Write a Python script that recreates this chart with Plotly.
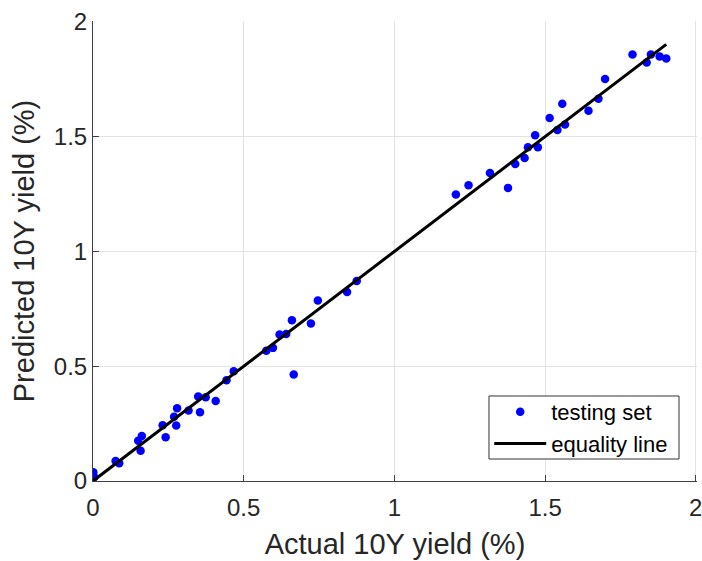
import plotly.graph_objects as go

# Actual vs predicted 10-year yields (%) on the testing set
actual = [0.001, 0.004, 0.075, 0.087, 0.150, 0.162, 0.158, 0.231, 0.241, 0.269,
          0.279, 0.276, 0.317, 0.349, 0.355, 0.374, 0.407, 0.443, 0.467, 0.575,
          0.597, 0.619, 0.641, 0.660, 0.666, 0.723, 0.746, 0.843, 0.875, 1.204,
          1.246, 1.317, 1.377, 1.401, 1.432, 1.443, 1.467, 1.476, 1.515, 1.541,
          1.557, 1.566, 1.644, 1.677, 1.699, 1.790, 1.837, 1.851, 1.880, 1.902]
predicted = [0.038, 0.016, 0.087, 0.077, 0.175, 0.196, 0.132, 0.243, 0.191, 0.280,
             0.317, 0.242, 0.307, 0.368, 0.300, 0.365, 0.349, 0.439, 0.478, 0.567,
             0.580, 0.638, 0.640, 0.700, 0.464, 0.686, 0.786, 0.823, 0.871, 1.248,
             1.288, 1.342, 1.277, 1.381, 1.407, 1.454, 1.506, 1.454, 1.581, 1.529,
             1.643, 1.553, 1.613, 1.665, 1.751, 1.858, 1.823, 1.858, 1.849, 1.841]

axis_range = [0, 2.004]   # a hair past 2 so the gridline/label at 2 are kept
tick_start = 0
tick_step = 0.5

# equality line spans the range of actual values
eq_x = [min(actual), max(actual)]
eq_y = eq_x

FONT = "Liberation Sans, Arial, Helvetica, sans-serif"
TEXT = "#262626"
GRID = "#e3e3e3"

fig = go.Figure()
fig.add_trace(go.Scatter(
    x=actual, y=predicted, mode="markers", name="testing set",
    marker=dict(color="#0000ff", size=8.5, line=dict(width=0)),
))
fig.add_trace(go.Scatter(
    x=eq_x, y=eq_y, mode="lines", name="equality line",
    line=dict(color="black", width=3),
))

axis_common = dict(
    range=axis_range, tickmode="linear", tick0=tick_start, dtick=tick_step,
    showgrid=True, gridcolor=GRID, gridwidth=1,
    zeroline=False, showline=True, linecolor="#404040", linewidth=1,
    ticks="inside", ticklen=6, tickcolor="#404040",
    tickfont=dict(family=FONT, size=24, color=TEXT),
    ticklabeloverflow="allow", automargin=False,
    fixedrange=True,
)

# legend frame (white box with a dark outline) behind the legend entries
fig.add_shape(
    type="rect", xref="paper", yref="paper",
    x0=0.6556, x1=0.9702, y0=0.0478, y1=0.1848,
    line=dict(color="#333333", width=1), fillcolor="white", layer="above",
)

fig.update_layout(
    width=702, height=561,
    margin=dict(l=93, r=5, t=21, b=80),
    paper_bgcolor="white", plot_bgcolor="white",
    showlegend=True,
    legend=dict(
        x=0.656, y=0.1957, xanchor="left", yanchor="top",
        bgcolor="rgba(0,0,0,0)", borderwidth=0,
        font=dict(family=FONT, size=22, color="black"),
        itemwidth=52,
        tracegroupgap=0,
    ),
    xaxis=dict(**axis_common, ticklabelstandoff=5,
               title=dict(text="Actual 10Y yield (%)",
                          font=dict(family=FONT, size=29, color=TEXT),
                          standoff=13)),
    yaxis=dict(**axis_common,
               title=dict(text="Predicted 10Y yield (%)",
                          font=dict(family=FONT, size=29, color=TEXT),
                          standoff=10)),
)

fig.write_html("out.html")
